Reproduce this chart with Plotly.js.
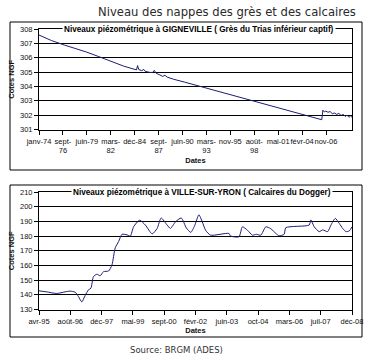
<!DOCTYPE html>
<html><head><meta charset="utf-8">
<script src="https://cdn.plot.ly/plotly-3.0.1.min.js"></script>
<style>html,body{margin:0;padding:0;background:#fff}#chart{width:370px;height:359px}</style>
</head><body><div id="chart"></div>
<script>
// --- Data: Gigneville (Grès du Trias inférieur captif)
const topDates = ['1974-01-01','1975-06-01','1976-12-01','1978-03-01','1979-06-01','1980-11-01','1982-05-01','1983-09-01','1985-03-01','1985-04-15','1985-06-01','1985-10-01','1986-01-01','1986-03-01','1986-09-01','1987-01-01','1987-03-15','1987-06-01','1987-11-01','1988-03-01','1988-06-01','1988-09-01','1989-06-01','1990-09-01','2006-05-15','2006-07-01','2006-09-01','2006-11-01','2007-02-01','2007-05-01','2007-08-01','2007-11-01','2008-02-01','2008-05-01','2008-08-01','2008-11-01','2009-02-01','2009-04-01','2009-07-01','2009-09-01','2009-10-31'];
const topLevels = [307.58,307.2,306.88,306.65,306.4,306.08,305.72,305.42,305.15,305.45,305.18,305.1,305.18,305.05,304.98,304.97,305.12,304.92,304.8,304.7,304.78,304.65,304.5,304.3,301.68,302.35,302.22,302.28,302.2,302.25,302.1,302.15,302.05,302.12,301.98,302.05,301.9,302.0,301.85,301.95,301.85];
const topTickDates = ['1974-01-01','1976-09-27','1979-06-24','1982-03-20','1984-12-14','1987-09-10','1990-06-06','1993-03-02','1995-11-27','1998-08-23','2001-05-19','2004-02-13','2006-11-09'];
const topTickLabels = ['janv-74','sept-<br>76','juin-79','mars-<br>82','déc-84','sept-<br>87','juin-90','mars-<br>93','nov-95','août-<br>98','mai-01','févr-04','nov-06'];

// --- Data: Ville-sur-Yron (Calcaires du Dogger)
const botDates = ['1995-04-01','1995-08-01','1996-01-10','1996-05-20','1996-08-10','1996-10-29','1996-12-21','1997-02-13','1997-04-07','1997-05-30','1997-07-08','1997-08-18','1997-10-12','1997-12-04','1998-01-26','1998-04-16','1998-06-09','1998-08-01','1998-09-23','1998-11-17','1999-02-05','1999-03-30','1999-05-22','1999-08-26','1999-11-25','2000-03-12','2000-05-31','2000-08-03','2000-11-07','2000-12-30','2001-03-20','2001-06-20','2001-09-10','2001-11-20','2002-01-20','2002-03-29','2002-05-22','2002-07-14','2002-10-02','2003-07-22','2003-08-19','2003-12-30','2004-02-22','2004-05-12','2004-08-01','2004-10-01','2004-12-12','2005-03-02','2005-05-21','2005-08-09','2005-10-01','2005-12-20','2006-01-16','2007-01-24','2007-02-20','2007-04-14','2007-07-03','2007-08-27','2007-11-15','2008-01-07','2008-03-16','2008-05-19','2008-07-12','2008-09-03','2008-10-26','2008-12-08'];
const botLevels = [142.7,142,140.9,142,142.5,141.8,138.8,135.2,139.5,143.4,144.5,152.4,154,153,155.8,156.2,160.3,172,176.2,181.2,180.8,180,186.4,190.8,187.5,181.5,185.2,192.3,187.5,185.2,189.7,192.3,185.5,182.5,187,194.5,189.7,184,180.6,181.8,180,179.5,186.3,184,180.6,181.2,180.6,186.3,185,181.8,180.2,181.2,185.7,187.5,191,186.3,183,184.2,183,187.5,192,188.6,185.2,183,183.5,186.3];
const botTickDates = ['1995-04-01','1996-08-13','1997-12-26','1999-05-10','2000-09-21','2002-02-03','2003-06-18','2004-10-30','2006-03-14','2007-07-27','2008-12-08'];
const botTickLabels = ['avr-95','août-96','déc-97','mai-99','sept-00','févr-02','juin-03','oct-04','mars-06','juil-07','déc-08'];

const W = 370, H = 359;
const px = x => x / W;
const py = y => 1 - y / H;
const lineColor = '#1c1c78';
const tickFont = {family: 'Liberation Sans, Arial, sans-serif', size: 7.5, color: '#111'};
const boldFont = {family: 'Liberation Sans, Arial, sans-serif', size: 7.5, color: '#111', weight: 'bold'};

const traces = [
  {x: topDates, y: topLevels, type: 'scatter', mode: 'lines', xaxis: 'x', yaxis: 'y',
   line: {color: lineColor, width: 1}, hoverinfo: 'skip'},
  {x: botDates, y: botLevels, type: 'scatter', mode: 'lines', xaxis: 'x2', yaxis: 'y2',
   line: {color: lineColor, width: 1, shape: 'spline', smoothing: 0.6}, hoverinfo: 'skip'}
];

function xAx(range, vals, text, anchor) {
  return {domain: [px(39), px(352)], anchor: anchor, type: 'date', range: range,
    tickmode: 'array', tickvals: vals, ticktext: text, tickangle: 0,
    ticks: 'outside', ticklen: 4, tickcolor: '#000', tickfont: tickFont,
    showline: true, linecolor: '#000', linewidth: 1, mirror: true,
    showgrid: false, zeroline: false, fixedrange: true,
    title: {text: 'Dates', font: boldFont, standoff: 3}};
}
function yAx(range, dtick, dom, anchor) {
  return {domain: dom, anchor: anchor, range: range, dtick: dtick, tick0: range[0],
    ticks: 'outside', ticklen: 4, tickcolor: '#000', tickfont: tickFont,
    showline: true, linecolor: '#000', linewidth: 1, mirror: true,
    showgrid: true, gridcolor: '#000', gridwidth: 1, zeroline: false, fixedrange: true,
    title: {text: 'Cotes NGF', font: boldFont, standoff: 4}};
}

const layout = {
  width: W, height: H, margin: {l: 0, r: 0, t: 0, b: 0},
  paper_bgcolor: '#fff', plot_bgcolor: '#fff', showlegend: false,
  font: tickFont,
  xaxis: xAx(['1974-01-01', '2009-10-31'], topTickDates, topTickLabels, 'y'),
  yaxis: yAx([301, 308], 1, [py(129.5), py(29)], 'x'),
  xaxis2: xAx(['1995-04-01', '2008-12-08'], botTickDates, botTickLabels, 'y2'),
  yaxis2: yAx([130, 210], 10, [py(309.5), py(192)], 'x2'),
  shapes: [
    {type: 'rect', xref: 'paper', yref: 'paper', x0: px(10), x1: px(362), y0: py(170), y1: py(22), line: {color: '#000', width: 1}},
    {type: 'rect', xref: 'paper', yref: 'paper', x0: px(10), x1: px(362), y0: py(337), y1: py(185), line: {color: '#000', width: 1}}
  ],
  annotations: [
    {text: 'Niveau des nappes des grès et des calcaires', xref: 'paper', yref: 'paper', x: px(227), y: py(12),
     xanchor: 'center', yanchor: 'middle', showarrow: false,
     font: {family: 'DejaVu Sans, Verdana, sans-serif', size: 11.6, color: '#2a2a2a'}},
    {text: 'Niveaux piézométrique à GIGNEVILLE ( Grès du Trias inférieur captif)', xref: 'paper', yref: 'paper',
     x: px(199), y: py(29), xanchor: 'center', yanchor: 'middle', showarrow: false, bgcolor: '#fff', borderpad: 1,
     font: {family: 'Liberation Sans, Arial, sans-serif', size: 8.2, color: '#000', weight: 'bold'}},
    {text: 'Niveaux piézométrique à VILLE-SUR-YRON ( Calcaires du Dogger)', xref: 'paper', yref: 'paper',
     x: px(202), y: py(192), xanchor: 'center', yanchor: 'middle', showarrow: false, bgcolor: '#fff', borderpad: 1,
     font: {family: 'Liberation Sans, Arial, sans-serif', size: 8.2, color: '#000', weight: 'bold'}},
    {text: 'Source: BRGM (ADES)', xref: 'paper', yref: 'paper', x: px(176), y: py(350),
     xanchor: 'center', yanchor: 'middle', showarrow: false,
     font: {family: 'DejaVu Sans, Verdana, sans-serif', size: 8.5, color: '#333'}}
  ]
};

Plotly.newPlot('chart', traces, layout, {staticPlot: true, displayModeBar: false});
</script></body></html>
